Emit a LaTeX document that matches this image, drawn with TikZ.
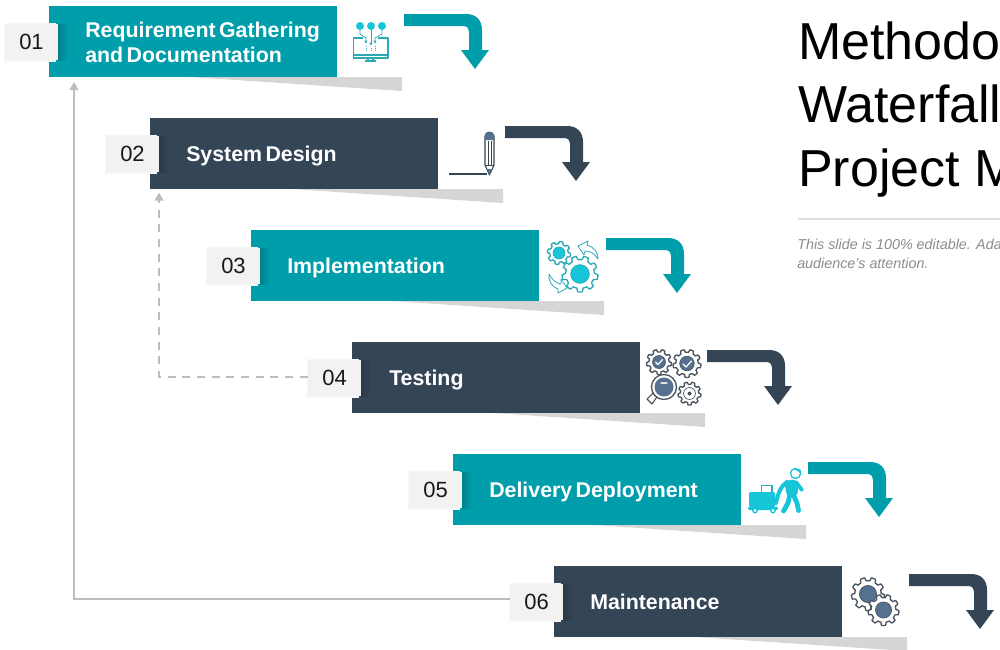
\documentclass[tikz,border=0pt]{standalone}
\usepackage{fontspec}
\setmainfont{Liberation Sans}
\newfontfamily\wflabelfam[WordSpace=0.58]{Liberation Sans}
\usetikzlibrary{arrows.meta,calc}
\definecolor{wteal}{HTML}{009EAA}
\definecolor{wdark}{HTML}{344556}
\definecolor{wcyan}{HTML}{17C5D8}
\definecolor{wline}{HTML}{2BAAB6}
\definecolor{wsteel}{HTML}{56708F}
\definecolor{wgear}{HTML}{49545F}
\definecolor{wsh}{HTML}{D6D6D6}
\definecolor{wconn}{HTML}{BDBDBD}
\tikzset{
  x=0.75pt,y=-0.75pt,
  barbox/.style={anchor=north west,minimum width=216pt,minimum height=53.25pt,inner sep=0pt,draw=none},
  numbox/.style={fill=black!5,minimum width=39.75pt,minimum height=27pt,inner sep=0pt,font=\fontsize{16.5pt}{18pt}\selectfont,text=black!90},
  labelfont/.style={inner sep=0pt,text=white,align=left,font=\wflabelfam\bfseries\fontsize{16pt}{18.75pt}\selectfont},
  barlabel/.style={labelfont,anchor=base west},
  twolabel/.style={labelfont,anchor=west},
  titletext/.style={anchor=base west,inner sep=0pt,font=\fontsize{39pt}{45pt}\selectfont,text=black},
  subtext/.style={anchor=base west,inner sep=0pt,font=\itshape\fontsize{10.75pt}{13pt}\selectfont,text=black!45},
  conn/.style={draw=wconn,line width=1.5pt,-{Triangle[length=6pt,width=6.5pt]}},
  icon/.style={line width=.8pt,line join=round},
}
\newcommand{\wfstep}[4]{%
  \fill[wsh] ({#2+141},{#3+71}) -- ({#2+353},{#3+71}) -- ({#2+353},{#3+85}) -- cycle;
  \node[barbox,fill=#4] (b#1) at (#2,#3) {};
  \shade[left color=#4!82!black,right color=#4] ({#2+9},{#3+18}) rectangle ({#2+19},{#3+54});
  \fill[black!3] ({#2-45},{#3+17}) rectangle ({#2+7},{#3+56});
  \node[numbox] (n#1) at ({#2-17.5},{#3+36}) {0#1};
  \begin{scope}[shift={({#2+355},{#3+8})}]
    \fill[#4] (0,0) -- (62,0) .. controls (72,0) and (78,6) .. (78,16) -- (78,36) -- (85,36)
      -- (71,55) -- (57,36) -- (65,36) -- (65,19) .. controls (65,14) and (63,12) .. (59,12) -- (0,12) -- cycle;
  \end{scope}
}
\newcommand{\wfgear}[6]{%
  \draw[icon,draw=#5,fill=white,line width=1pt] plot[variable=\t,domain=0:360,samples=121]
    ({#1+(#3*(0.8+0.2*min(1,max(0,1.8*sin(#4*\t)+0.5))))*cos(\t)},
     {#2+(#3*(0.8+0.2*min(1,max(0,1.8*sin(#4*\t)+0.5))))*sin(\t)}) -- cycle;
  \draw[#5,line width=.5pt,fill=#6] (#1,#2) circle[radius=#3*0.52];
}
\begin{document}
\begin{tikzpicture}
\useasboundingbox (0,0) rectangle (1000,650);
\clip (0,0) rectangle (1000,650);
\fill[white] (0,0) rectangle (1000,650);

\wfstep{1}{49}{6}{wteal}
\wfstep{2}{150}{118}{wdark}
\wfstep{3}{251}{230}{wteal}
\wfstep{4}{352}{342}{wdark}
\wfstep{5}{453}{454}{wteal}
\wfstep{6}{554}{566}{wdark}

\node[twolabel] (l1) at (85,42) {Requirement Gathering\\and Documentation};
\node[barlabel] (l2) at (186,161.5) {System Design};
\node[barlabel] (l3) at (287,273.5) {Implementation};
\node[barlabel] (l4) at (389,385.5) {Testing};
\node[barlabel] (l5) at (489,497.5) {Delivery Deployment};
\node[barlabel] (l6) at (590,609.5) {Maintenance};

% connectors
\coordinate (t1) at ($(b1.south west)+(25,4.5)$);
\coordinate (t2) at ($(b2.south west)+(9,3)$);
\draw[conn] ($(n6.west)+(0,-3)$) -| (t1);
\draw[conn,line width=1.2pt,dash pattern=on 6pt off 5pt] ($(n4.west)+(0,-1)$) -| (t2);

% icon 1: monitor
\fill[wcyan] (360,26) circle[radius=4] (371,26) circle[radius=4] (382,26) circle[radius=4];
\draw[icon,wline] (363,38) -- (353.5,38) -- (353.5,58) -- (388,58) -- (388,38) -- (378,38);
\draw[icon,wline] (353.5,55) -- (388,55);
\draw[icon,wline] (365,61) -- (376,61) (368,58) -- (368,61) (373,58) -- (373,61);
\draw[icon,wline,line width=.6pt,-{Latex[length=2.5pt,width=2.5pt]}] (360,30) -- (360,34) -- (366,38) -- (366,44);
\draw[icon,wline,line width=.6pt,-{Latex[length=2.5pt,width=2.5pt]}] (371,30) -- (371,46);
\draw[icon,wline,line width=.6pt,-{Latex[length=2.5pt,width=2.5pt]}] (382,30) -- (382,34) -- (375,38) -- (375,44);
\draw[wline,line width=.5pt,densely dotted] (366,46) -- (366,52) (371,48) -- (371,52) (375,46) -- (375,52);

% icon 2: pen
\draw[line width=.8pt,wdark] (449,174) -- (487,174);
\draw[icon,draw=wdark,fill=white] (485,136) .. controls (485,131) and (494,131) .. (494,136) -- (494,165) -- (489.5,175) -- (485,165) -- cycle;
\fill[wsteel] (485,136) .. controls (485,131) and (494,131) .. (494,136) -- (494,140) -- (485,140) -- cycle;
\fill[wsteel] (487,169) -- (492,169) -- (489.5,175) -- cycle;
\draw[wdark,line width=.5pt] (488,141) -- (488,165) (491,141) -- (491,165) (485,165) -- (494,165);

% icon 3: gears and arrows
\wfgear{559}{253}{11.5}{8}{wline}{wcyan}
\wfgear{580}{274}{18}{9}{wline}{wcyan}
\draw[icon,draw=wline,fill=white,line width=.6pt] (578,246) -- (588,241) -- (587,245) .. controls (594,247) and (598,252) .. (598,259) .. controls (594,253) and (590,251) .. (585,251) -- (584,255) -- cycle;
\draw[icon,draw=wline,fill=white,line width=.6pt] (567,288) -- (558,293) -- (558,289) .. controls (552,287) and (548,281) .. (549,274) .. controls (552,280) and (556,283) .. (561,284) -- (561,279) -- cycle;

% icon 4: checks and magnifier
\wfgear{659}{362}{12.5}{9}{wgear}{wsteel}
\wfgear{687}{363.5}{14}{9}{wgear}{wsteel}
\wfgear{689.5}{393.5}{11.5}{9}{wgear}{white}
\draw[white,line width=.9pt,line cap=round,line join=round] (655.5,362) -- (658,364.5) -- (662.5,359.5) (683,364) -- (686,367) -- (691.5,361);
\fill[wgear] (689.5,393.5) circle[radius=2];
\draw[icon,draw=wgear,fill=white] (653,393) -- (657,397) -- (652,404) -- (647,399) -- cycle;
\draw[icon,draw=wgear,fill=white,line width=1pt] (664,387) circle[radius=12.5];
\fill[wsteel] (664,387) circle[radius=9.5];
\draw[white!80!wsteel,line width=.8pt,line cap=round] (661,383) -- (667,383);

% icon 5: person with cart
\fill[wcyan,rounded corners=1pt] (749,492) rectangle (775,507);
\draw[icon,wline] (761.5,492) -- (761.5,485.5) -- (772,485.5) -- (772,492);
\fill[wcyan,rounded corners=1pt] (748,506.5) rectangle (778,510);
\draw[wcyan,fill=white,line width=1pt] (755,510.5) circle[radius=2.2] (773,510.5) circle[radius=2.2];
\draw[wcyan,fill=white,line width=1pt] (795.5,473.5) circle[radius=5];
\fill[wcyan] (793,468) -- (801,470) -- (800.5,473) -- cycle;
\fill[wcyan,rounded corners=1.5pt] (784,481) -- (795,479.5) -- (799,484) -- (797,496) -- (787,496) -- cycle;
\draw[wcyan,line width=3pt,line cap=round,line join=round] (787,482) .. controls (781,486) and (778,493) .. (776,503);
\draw[wcyan,line width=2.8pt,line cap=round,line join=round] (796,482) -- (802,490);
\draw[wcyan,line width=3.6pt,line cap=round,line join=round] (790,494) -- (788,503) -- (783.5,511);
\draw[wcyan,line width=3.6pt,line cap=round,line join=round] (793,494) -- (797,503) -- (798.5,510.5);

% icon 6: two gears
\wfgear{868}{594}{16.5}{9}{wgear}{wsteel}
\wfgear{883.5}{610}{15.5}{9}{wgear}{wsteel}

% title block
\node[titletext] (ti1) at (798,59) {Methodo};
\node[titletext] (ti2) at (798,122) {Waterfall};
\node[titletext] (ti3) at (798,186) {Project M};
\draw[black!13,line width=.8pt] (798,219) -- (1000,219);
\node[subtext] (su1) at (797,249) {This slide is 100\% editable. Ada};
\node[subtext] (su2) at (797,268) {audience's attention.};
\end{tikzpicture}
\end{document}
